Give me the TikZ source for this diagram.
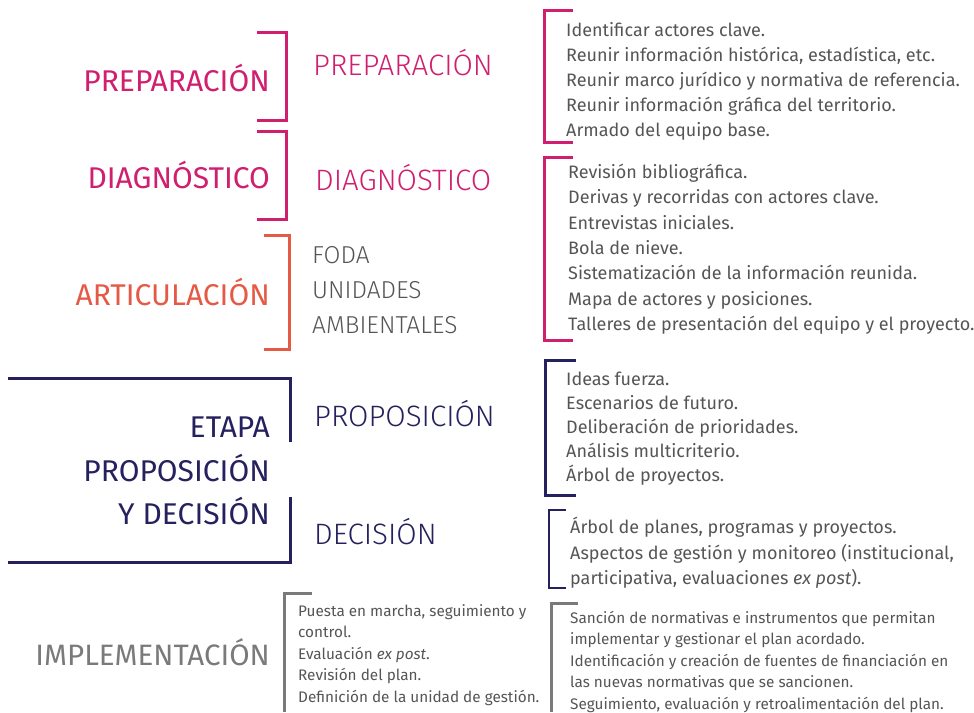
\documentclass[tikz,border=0pt]{standalone}
\usepackage{fontspec}
\setmainfont{Fira Sans}
\newfontfamily\lightfont{Fira Sans Light}
\usetikzlibrary{positioning}

\definecolor{prepmag}{HTML}{D01F6F}
\definecolor{artorange}{HTML}{E45A45}
\definecolor{etapanavy}{HTML}{25215E}
\definecolor{implgrey}{HTML}{7A7A7A}
\definecolor{txtgrey}{HTML}{555557}

\tikzset{
  stage/.style={font=\fontsize{30}{43.5}\selectfont, anchor=east, inner sep=0pt, align=right},
  phase/.style={font=\lightfont\fontsize{29.5}{35}\selectfont, anchor=west, inner sep=0pt, align=left},
  tasks/.style={font=\fontsize{18}{25}\selectfont, text=txtgrey, anchor=north west, inner sep=0pt, align=left},
  brace/.style={line width=3pt},
}

\begin{document}
\begin{tikzpicture}[x=1pt,y=-1pt]
    \useasboundingbox (0,0) rectangle (974,712);

    % Etapas (left column)
    \node[stage, text=prepmag] (prepL) at (270,78) {PREPARACIÓN};
    \node[stage, text=prepmag] (diagL) at (270,175) {DIAGNÓSTICO};
    \node[stage, text=artorange] (artL) at (270,292) {ARTICULACIÓN};
    \node[stage, text=etapanavy] (propL) at (270,471) {ETAPA\\PROPOSICIÓN\\Y DECISIÓN};
    \node[stage, text=implgrey, font=\fontsize{29.5}{35}\selectfont] (implL) at (270,652) {IMPLEMENTACIÓN};

    % Left brackets
    \draw[brace, prepmag] (257,32) -| (286,120) -- (257,120);
    \draw[brace, prepmag] (257,131) -| (286,219) -- (257,219);
    \draw[brace, artorange] (264,235) -| (289,349) -- (264,349);
    \draw[brace, etapanavy] (8,378) -| (290,442);
    \draw[brace, etapanavy] (290,497) |- (8,562);
    \draw[brace, implgrey] (312,593) -| (284,712);

    % Fases (middle column)
    \node[phase, text=prepmag] (prepM) at (313,63) {PREPARACIÓN};
    \node[phase, text=prepmag] (diagM) at (315,178) {DIAGNÓSTICO};
    \node[phase, text=txtgrey, font=\lightfont\fontsize{24.5}{35}\selectfont] (artM) at (312,290) {FODA\\UNIDADES\\AMBIENTALES};
    \node[phase, text=etapanavy] (propM) at (314,414) {PROPOSICIÓN};
    \node[phase, text=etapanavy] (decM) at (314,532) {DECISIÓN};

    % Right brackets
    \draw[brace, prepmag] (573,10) -| (544,142) -- (573,142);
    \draw[brace, prepmag] (573,157) -| (544,340) -- (573,340);
    \draw[brace, etapanavy] (576,360) -| (545,495) -- (576,495);
    \draw[line width=2pt, etapanavy] (566,510) -| (549,588) -- (566,588);
    \draw[brace, implgrey] (578,603) -| (551,712);

    % Tareas
    \node[tasks] (prepT) at (566,22) {Identificar actores clave.\\
        Reunir información histórica, estadística, etc.\\
        Reunir marco jurídico y normativa de referencia.\\
        Reunir información gráfica del territorio.\\
        Armado del equipo base.};
    \node[tasks, font=\fontsize{18}{25.3}\selectfont] (diagT) at (568,164) {Revisión bibliográfica.\\
        Derivas y recorridas con actores clave.\\
        Entrevistas iniciales.\\
        Bola de nieve.\\
        Sistematización de la información reunida.\\
        Mapa de actores y posiciones.\\
        Talleres de presentación del equipo y el proyecto.};
    \node[tasks, font=\fontsize{18}{24}\selectfont] (propT) at (566,372) {Ideas fuerza.\\
        Escenarios de futuro.\\
        Deliberación de prioridades.\\
        Análisis multicriterio.\\
        Árbol de proyectos.};
    \node[tasks, font=\fontsize{18}{25.5}\selectfont] (decT) at (570,517) {Árbol de planes, programas y proyectos.\\
        Aspectos de gestión y monitoreo (institucional,\\
        participativa, evaluaciones \textit{ex post}).};
    \node[tasks, font=\fontsize{15.3}{21.5}\selectfont] (implA) at (298,604) {Puesta en marcha, seguimiento y\\
        control.\\
        Evaluación \textit{ex post}.\\
        Revisión del plan.\\
        Definición de la unidad de gestión.};
    \node[tasks, font=\fontsize{15.3}{21.5}\selectfont] (implB) at (570,611) {Sanción de normativas e instrumentos que permitan\\
        implementar y gestionar el plan acordado.\\
        Identificación y creación de fuentes de financiación en\\
        las nuevas normativas que se sancionen.\\
        Seguimiento, evaluación y retroalimentación del plan.};
\end{tikzpicture}
\end{document}
